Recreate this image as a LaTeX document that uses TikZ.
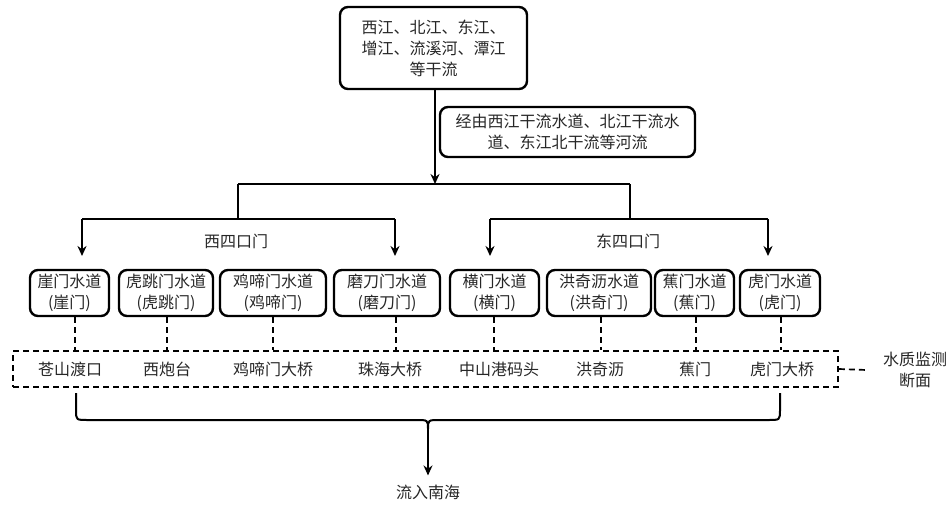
\documentclass[tikz,border=0pt]{standalone}
\usepackage{fontspec}
\setmainfont{Noto Sans CJK SC}
\usetikzlibrary{arrows.meta}
\begin{document}
\begin{tikzpicture}[x=1pt,y=-1pt,
  txt/.style={font=\fontsize{16}{21}\selectfont,text=black!85,align=center,inner sep=0pt},
  box/.style={txt,draw=black,line width=2.4pt,rounded corners=8pt},
  conn/.style={line width=2.3pt},
  arr/.style={conn,-{Stealth[length=10pt,width=9pt]}},
  dsh/.style={line width=1.7pt,dash pattern=on 6pt off 4pt},
  lab/.style={txt}]
\useasboundingbox (0,0) rectangle (948,504);

% top box
\node[box,minimum width=187pt,minimum height=82pt] (top) at (433.5,48) {西江、北江、东江、\\增江、流溪河、潭江\\等干流};
\node[box,minimum width=255pt,minimum height=50pt] (via) at (567.5,132) {经由西江干流水道、北江干流水\\道、东江北干流等河流};

% junction coordinates
\coordinate (j0) at (435,184);
\coordinate (jw) at (238,184);
\coordinate (je) at (630,184);
\coordinate (jw2) at (238,219);
\coordinate (je2) at (630,219);
\coordinate (wl) at (82,219);
\coordinate (wr) at (395,219);
\coordinate (el) at (490,219);
\coordinate (er) at (768,219);
\coordinate (wla) at (82,256);
\coordinate (wra) at (395,256);
\coordinate (ela) at (490,256);
\coordinate (era) at (768,256);

\draw[arr] (top.south -| j0) -- (j0);
\draw[conn] (jw) -- (je);
\draw[conn] (jw) -- (jw2);
\draw[conn] (je) -- (je2);
\draw[conn] (wl) -- (wr);
\draw[arr] (wl) -- (wla);
\draw[arr] (wr) -- (wra);
\draw[conn] (el) -- (er);
\draw[arr] (el) -- (ela);
\draw[arr] (er) -- (era);

\node[lab] (west) at (236,241) {西四口门};
\node[lab] (east) at (628,241) {东四口门};

% channel boxes
\begin{scope}[every node/.append style={box,minimum height=46pt}]
\node[minimum width=79pt]  (b1) at (69.5,293) {崖门水道\\(崖门)};
\node[minimum width=94pt]  (b2) at (166,293)  {虎跳门水道\\(虎跳门)};
\node[minimum width=106pt] (b3) at (273,293)  {鸡啼门水道\\(鸡啼门)};
\node[minimum width=106pt] (b4) at (387,293)  {磨刀门水道\\(磨刀门)};
\node[minimum width=89pt]  (b5) at (494.5,293) {横门水道\\(横门)};
\node[minimum width=104pt] (b6) at (599,293)  {洪奇沥水道\\(洪奇门)};
\node[minimum width=79pt]  (b7) at (694.5,293) {蕉门水道\\(蕉门)};
\node[minimum width=80pt]  (b8) at (780,293)  {虎门水道\\(虎门)};
\end{scope}

% dashed monitoring box
\node[draw,dsh,minimum width=825pt,minimum height=36pt,inner sep=0pt] (dbox) at (425.5,369) {};

\node[lab] (s1) at (70,369)  {苍山渡口};
\node[lab] (s2) at (167,369) {西炮台};
\node[lab] (s3) at (273,369) {鸡啼门大桥};
\node[lab] (s4) at (390,369) {珠海大桥};
\node[lab] (s5) at (499,369) {中山港码头};
\node[lab] (s6) at (600,369) {洪奇沥};
\node[lab] (s7) at (695,369) {蕉门};
\node[lab] (s8) at (782,369) {虎门大桥};

\foreach \b/\dx in {b1/5.5,b2/1,b3/0,b4/9,b5/-0.5,b6/2,b7/1.5,b8/1}
  \draw[dsh] ([xshift=\dx pt]\b.south) -- ([xshift=\dx pt]\b.south |- dbox.north);

\node[lab,inner xsep=16pt] (mon) at (915,370) {水质监测\\断面};
\draw[dsh] (dbox.east) -- (mon.west);

% brace to sea
\coordinate (bl) at (76,393);
\coordinate (br) at (780,393);
\coordinate (bt) at (428,429);
\node[lab,inner ysep=9pt] (sea) at (428,492) {流入南海};
\draw[line width=2pt] (bl) -- (76,410) .. controls (76,420) .. (88,420) -- (416,420)
   .. controls (428,420) .. (bt) .. controls (428,420) .. (440,420) -- (768,420)
   .. controls (780,420) .. (780,410) -- (br);
\draw[line width=2pt,-{Stealth[length=10pt,width=9pt]}] (bt) -- (sea.north);
\end{tikzpicture}
\end{document}
